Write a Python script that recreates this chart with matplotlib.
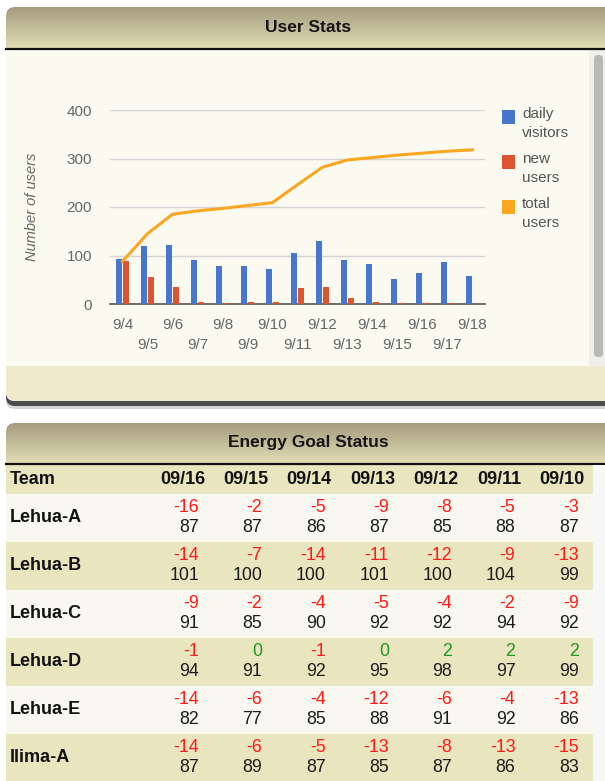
import numpy as np
import matplotlib.pyplot as plt
import matplotlib.colors as mcolors
from matplotlib.patches import FancyBboxPatch, Rectangle

# user stats chart
dates = ['9/4', '9/5', '9/6', '9/7', '9/8', '9/9', '9/10', '9/11',
         '9/12', '9/13', '9/14', '9/15', '9/16', '9/17', '9/18']
daily_visitors = [93, 119, 122, 90, 79, 79, 73, 105, 130, 90, 82, 52, 64, 87, 58]
new_users = [88, 56, 35, 5, 3, 4, 4, 32, 35, 12, 4, 3, 2, 2, 1]
total_users = [88, 145, 185, 192, 197, 203, 209, 246, 282, 297, 302, 307, 311, 315, 318]
legend_labels = ['daily\nvisitors', 'new\nusers', 'total\nusers']

# energy goal table
days = ['09/16', '09/15', '09/14', '09/13', '09/12', '09/11', '09/10']
teams = ['Lehua-A', 'Lehua-B', 'Lehua-C', 'Lehua-D', 'Lehua-E', 'Ilima-A']
deltas = [
    [-16, -2, -5, -9, -8, -5, -3],
    [-14, -7, -14, -11, -12, -9, -13],
    [-9, -2, -4, -5, -4, -2, -9],
    [-1, 0, -1, 0, 2, 2, 2],
    [-14, -6, -4, -12, -6, -4, -13],
    [-14, -6, -5, -13, -8, -13, -15],
]
scores = [
    [87, 87, 86, 87, 85, 88, 87],
    [101, 100, 100, 101, 100, 104, 99],
    [91, 85, 90, 92, 92, 94, 92],
    [94, 91, 92, 95, 98, 97, 99],
    [82, 77, 85, 88, 91, 92, 86],
    [87, 89, 87, 85, 87, 86, 83],
]

plt.rcParams['font.family'] = ['Liberation Sans', 'DejaVu Sans']

W, H = 605, 781
fig = plt.figure(figsize=(W / 100, H / 100), dpi=100)
fig.patch.set_facecolor('white')

bg = fig.add_axes([0, 0, 1, 1])
bg.axis('off')

cream = '#fafaf1'
beige = '#eeeacb'
row_beige = '#e9e5be'
row_light = '#f9f8f0'


def gradient(y0, y1, clip):
    c0 = np.array(mcolors.to_rgb('#a59c7e'))
    c1 = np.array(mcolors.to_rgb('#e0dcb3'))
    g = np.linspace(0, 1, 60)[:, None, None]
    img = c0 + (c1 - c0) * g
    im = bg.imshow(img, extent=[0, W + 20, y1, y0], aspect='auto', zorder=3)
    im.set_clip_path(clip)


# top panel (with its drop shadow)
shadow = FancyBboxPatch((6, 14), W + 20, 406 - 14, boxstyle='round,pad=0,rounding_size=9',
                        fc='#2a2a2a', ec='none', alpha=0.8, zorder=1)
bg.add_patch(shadow)
shadow2 = FancyBboxPatch((6, 14), W + 20, 409 - 14, boxstyle='round,pad=0,rounding_size=9',
                         fc='#2a2a2a', ec='none', alpha=0.2, zorder=1)
bg.add_patch(shadow2)
panel1 = FancyBboxPatch((6, 7), W + 20, 401 - 7, boxstyle='round,pad=0,rounding_size=9',
                        fc=cream, ec='none', zorder=2)
bg.add_patch(panel1)
gradient(7, 48, panel1)
band = Rectangle((0, 366), W + 20, 40, fc=beige, ec='none', zorder=3)
bg.add_patch(band)
band.set_clip_path(panel1)
bg.plot([6, W], [48.5, 48.5], color='#111111', lw=1.6, zorder=4)
bg.text(308, 27, 'User Stats', ha='center', va='center', fontsize=12.5,
        fontweight='bold', color='#151515', zorder=5)

# scrollbar
bg.add_patch(Rectangle((589, 50), 16, 316, fc='#efefec', ec='none', zorder=3))
bg.add_patch(FancyBboxPatch((594, 55), 9, 302, boxstyle='round,pad=0,rounding_size=4',
                            fc='#b9b9b7', ec='none', zorder=4))

# bottom panel
panel2 = FancyBboxPatch((6, 423), W + 20, 400, boxstyle='round,pad=0,rounding_size=9',
                        fc=row_light, ec='none', zorder=2)
bg.add_patch(panel2)
gradient(423, 463, panel2)
bg.plot([6, W], [463.5, 463.5], color='#111111', lw=1.6, zorder=4)
bg.text(308, 443, 'Energy Goal Status', ha='center', va='center', fontsize=12.5,
        fontweight='bold', color='#151515', zorder=5)

# table
bg.add_patch(Rectangle((6, 465), 587, 29, fc=row_beige, ec='none', zorder=3))
bg.text(10, 480, 'Team', ha='left', va='center', fontsize=13, fontweight='bold',
        color='#111111', zorder=5)
col_right = [205 + 63.3 * i for i in range(len(days))]
for j, d in enumerate(days):
    bg.text(col_right[j], 480, d, ha='right', va='center', fontsize=13,
            fontweight='bold', color='#111111', zorder=5)

row_h = 48
for i, team in enumerate(teams):
    top = 494 + i * row_h
    bg.add_patch(Rectangle((6, top), 587, row_h, fc=row_light if i % 2 == 0 else row_beige,
                           ec='none', zorder=3))
    cy = top + row_h / 2
    bg.text(10, cy, team, ha='left', va='center', fontsize=13, fontweight='bold',
            color='#111111', zorder=5)
    for j in range(len(days)):
        dv = deltas[i][j]
        bg.text(col_right[j] - 6, cy - 10, str(dv), ha='right', va='center', fontsize=12.8,
                color='#ff1a1a' if dv < 0 else '#1e9a1e', zorder=5)
        bg.text(col_right[j] - 6, cy + 9, str(scores[i][j]), ha='right', va='center',
                fontsize=12.8, color='#1c1c1c', zorder=5)
bg.add_patch(Rectangle((593, 465), 12, 320, fc='#f7f7f7', ec='none', zorder=4))

# legend (drawn by hand like the original)
blue, red, orange = '#4876cd', '#dc5430', '#fba61f'
for k, (lab, col) in enumerate(zip(legend_labels, [blue, red, orange])):
    y = 110 + k * 45
    bg.add_patch(Rectangle((502, y), 13, 14, fc=col, ec='none', zorder=5))
    bg.text(522, y - 3, lab, ha='left', va='top', fontsize=11, color='#555555',
            linespacing=1.45, zorder=5)

bg.set_xlim(0, W)
bg.set_ylim(H, 0)

# chart
ax = fig.add_axes([110 / W, 1 - 304 / H, 375 / W, 194 / H])
ax.patch.set_alpha(0)
x = np.arange(len(dates))
ax.bar(x - 0.13, daily_visitors, 0.24, color=blue, zorder=3)
ax.bar(x + 0.13, new_users, 0.24, color=red, zorder=3)
ax.plot(x, total_users, color=orange, lw=2.2, zorder=4)
ax.set_xlim(-0.5, len(dates) - 0.5)
ax.set_ylim(0, 400)
ax.set_yticks([0, 100, 200, 300, 400])
ax.grid(axis='y', color='#d4d4d4', lw=1)
ax.set_axisbelow(True)
for s in ['top', 'right', 'left']:
    ax.spines[s].set_visible(False)
ax.spines['bottom'].set_color('#555555')
ax.spines['bottom'].set_linewidth(1.2)
# alternate date labels on two rows
ax.set_xticks(x[::2])
ax.set_xticklabels(dates[::2])
ax.set_xticks(x[1::2], minor=True)
ax.set_xticklabels(dates[1::2], minor=True)
ax.tick_params(axis='x', which='major', length=0, pad=10, labelsize=11, colors='#666666')
ax.tick_params(axis='x', which='minor', length=0, pad=24.5, labelsize=11, colors='#666666')
ax.tick_params(axis='y', length=0, pad=13, labelsize=11, colors='#666666')
ax.set_ylabel('Number of users', fontsize=10.5, style='italic', color='#666666')
ax.yaxis.set_label_coords(-0.19, 0.5)

fig.savefig('out.png', dpi=100)
